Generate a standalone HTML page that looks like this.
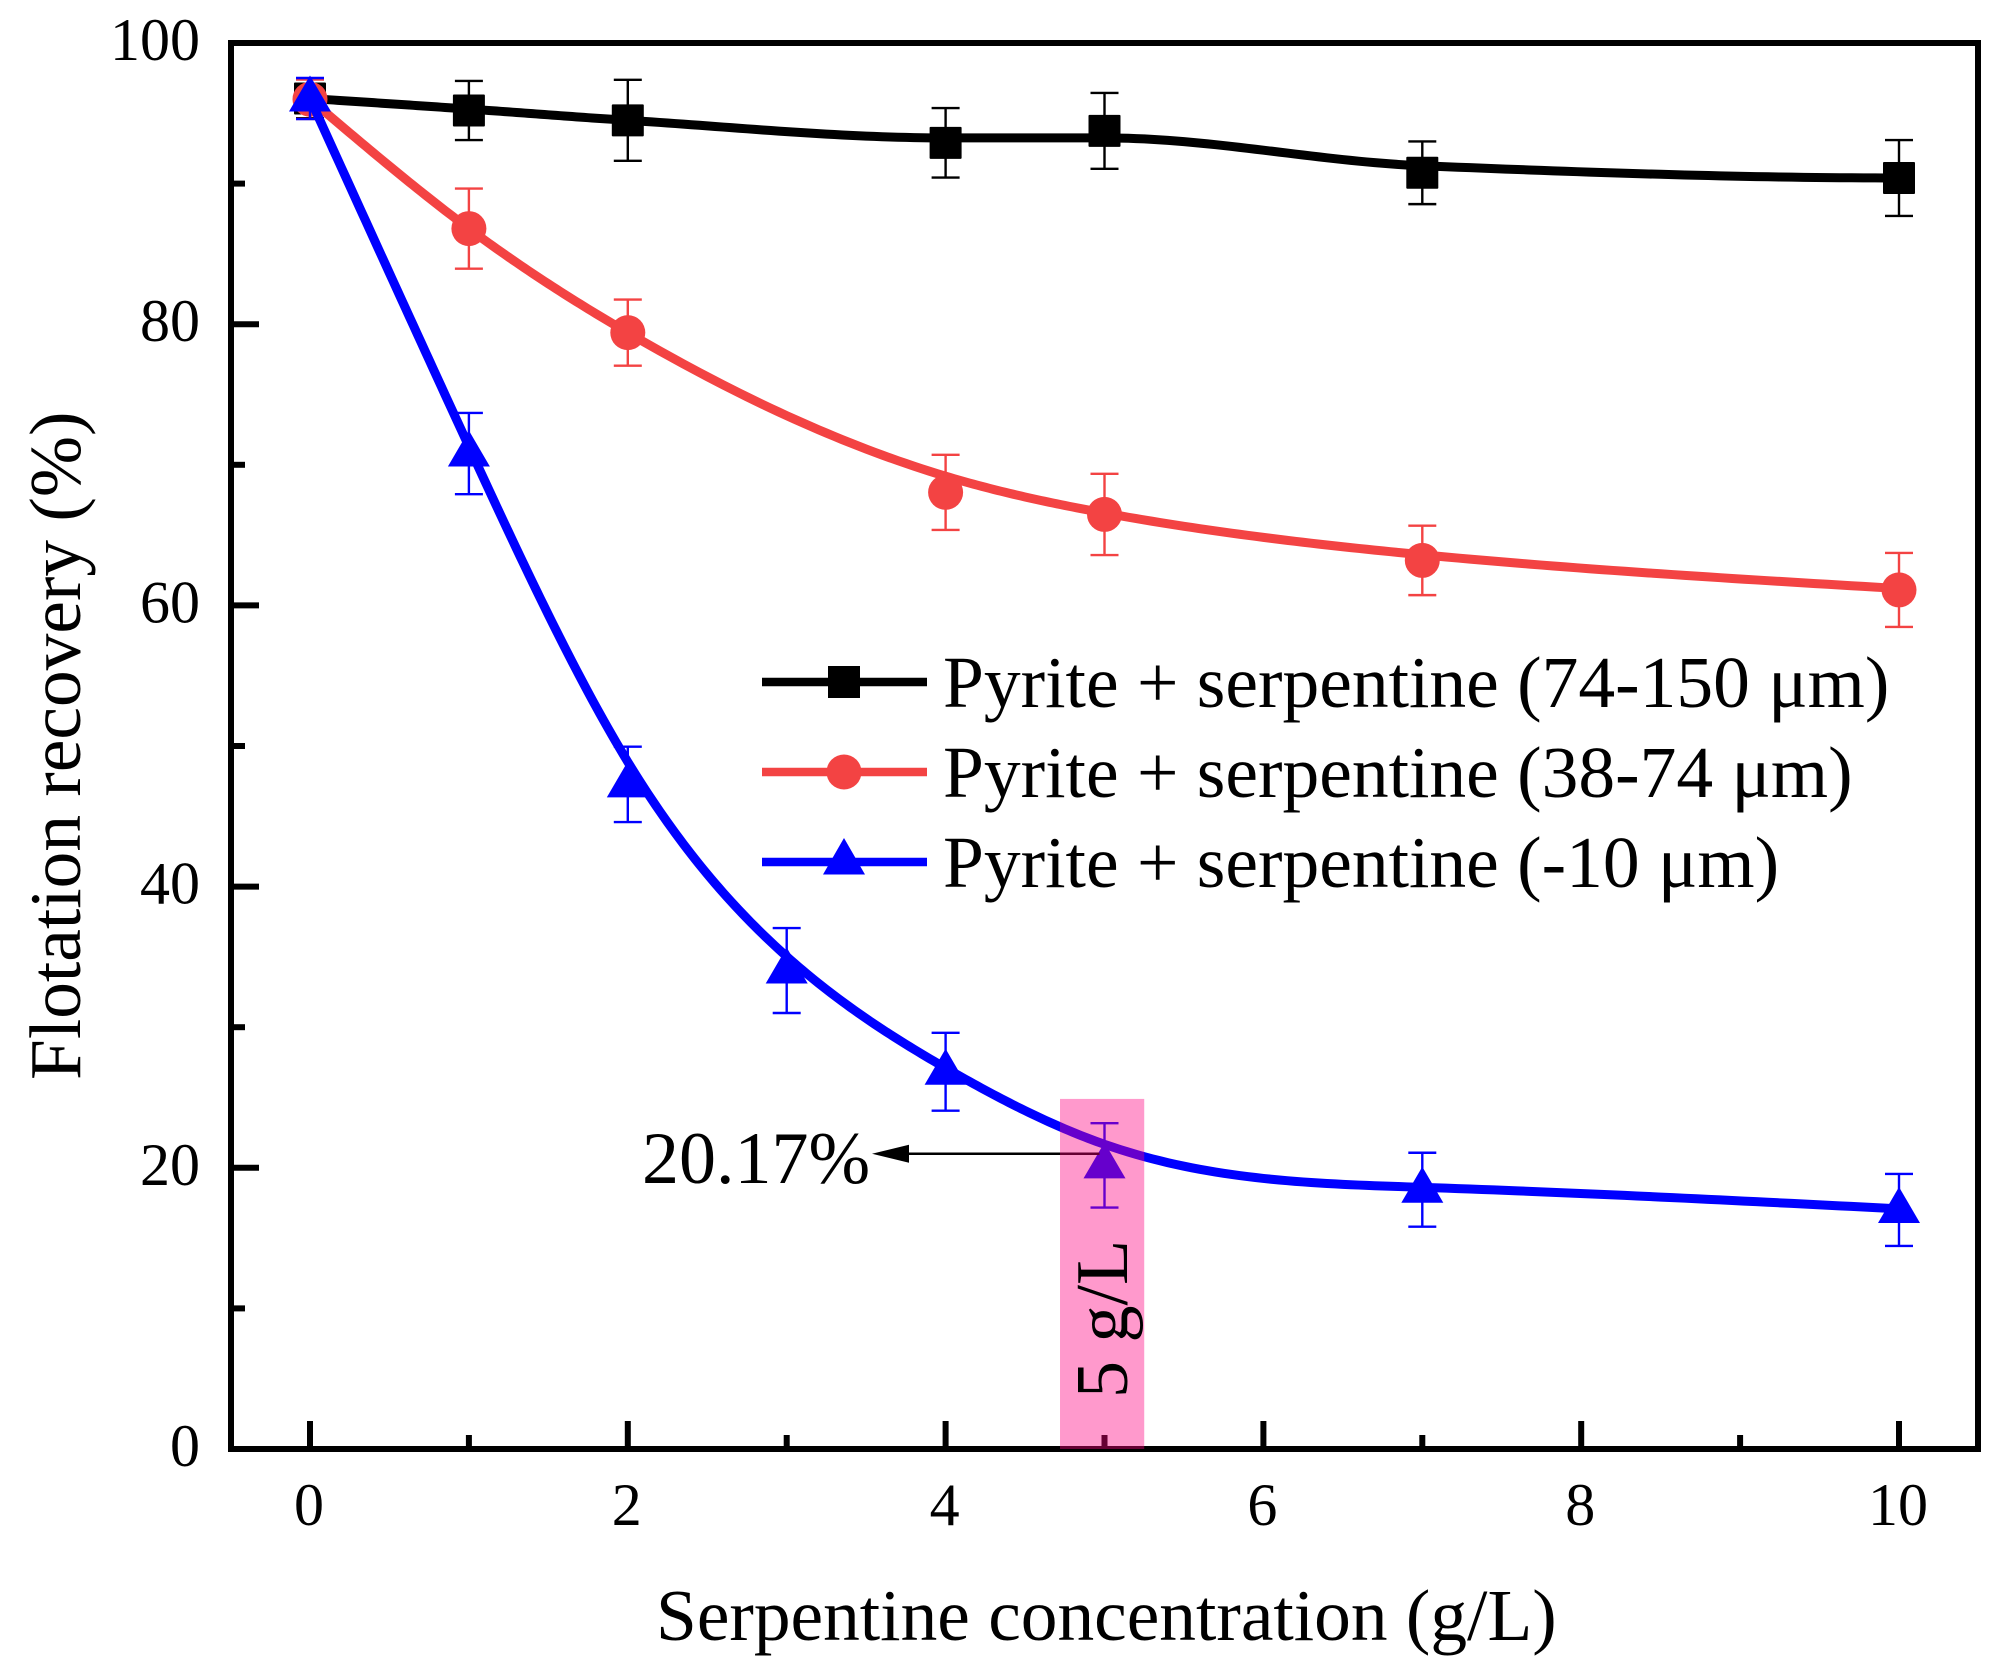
<!DOCTYPE html>
<html lang="en">
<head>
<meta charset="utf-8">
<title>Flotation recovery vs serpentine concentration</title>
<style>
  html, body { margin: 0; padding: 0; background: #ffffff; }
  svg { display: block; }
  text { font-family: "Liberation Serif", "Times New Roman", serif; fill: #000; }
  .tick-label { font-size: 60px; }
  .title { font-size: 73.4px; }
  .legend-text { font-size: 73.5px; }
  .note { font-size: 74px; }
</style>
</head>
<body>
<svg id="chart" xmlns="http://www.w3.org/2000/svg" width="2014" height="1666" viewBox="0 0 2014 1666">
  <rect x="0" y="0" width="2014" height="1666" fill="#ffffff"/>
  <g id="axes"></g>
  <g id="series"></g>
  <g id="annotation"></g>
  <rect x="231" y="43" width="1747" height="1406" fill="none" stroke="#000" stroke-width="6"/>
  <g id="band-layer"></g>
  <text class="note" transform="translate(1127,1398) rotate(-90)">5 g/L</text>
  <text class="title" x="656" y="1640">Serpentine concentration (g/L)</text>
  <text class="title" transform="translate(80,1080) rotate(-90)">Flotation recovery (%)</text>

  <g>
    <g>
      <line x1="762" y1="682" x2="927" y2="682" stroke="#000" stroke-width="8.5"/>
      <rect x="828" y="666" width="32" height="32" fill="#000"/>
      <text class="legend-text" x="943" y="707">Pyrite + serpentine (74-150 μm)</text>
    </g>
    <g>
      <line x1="762" y1="772" x2="927" y2="772" stroke="#f34343" stroke-width="8.5"/>
      <circle cx="844" cy="772" r="17.5" fill="#f34343"/>
      <text class="legend-text" x="943" y="797">Pyrite + serpentine (38-74 μm)</text>
    </g>
    <g>
      <line x1="762" y1="862" x2="927" y2="862" stroke="#0000ff" stroke-width="8.5"/>
      <polygon points="844,838 865,874.5 823,874.5" fill="#0000ff"/>
      <text class="legend-text" x="943" y="887">Pyrite + serpentine (-10 μm)</text>
    </g>
  </g>
</svg>

<script>
// Axis ticks
const xMajorTicks = [0, 2, 4, 6, 8, 10];
const xMinorTicks = [1, 3, 5, 7, 9];
const yMajorTicks = [0, 20, 40, 60, 80, 100];
const yMinorTicks = [10, 30, 50, 70, 90];

// Pyrite + serpentine (74-150 um)
const coarseConcentration = [0, 1, 2, 4, 5, 7, 10];
const coarseRecovery = [96.05, 95.2, 94.5, 92.9, 93.75, 90.77, 90.4];
const coarseError = [1.4, 2.1, 2.88, 2.47, 2.7, 2.23, 2.7];
const coarseCurveShift = [0, 0.1, 0, 0.35, -0.5, 0.5, 0];

// Pyrite + serpentine (38-74 um)
const mediumConcentration = [0, 1, 2, 4, 5, 7, 10];
const mediumRecovery = [96.0, 86.8, 79.4, 68.04, 66.47, 63.2, 61.1];
const mediumError = [1.4, 2.85, 2.35, 2.67, 2.89, 2.47, 2.63];
const mediumCurveShift = [0, 0, 0, 1.15, 0.1, 0.4, 0.1];

// Pyrite + serpentine (-10 um)
const fineConcentration = [0, 1, 2, 3, 4, 5, 7, 10];
const fineRecovery = [96.05, 70.8, 47.27, 34.03, 26.83, 20.17, 18.44, 17.0];
const fineError = [1.46, 2.89, 2.68, 3.02, 2.77, 3.0, 2.63, 2.56];
const fineCurveShift = [0, 0.5, 1.6, 1.0, 0.27, 1.5, 0.17, 0.08];

// Highlighted band and annotation
const bandConcentration = [4.72, 5.25];
const bandRecoveryTop = 24.9;
const annotatedPoint = [5, 21.0];

const SVG_NS = 'http://www.w3.org/2000/svg';
const xAxis = function (v) { return 310 + v * 158.9; };
const yAxis = function (v) { return 1449 - v * 14.06; };

const axesLayer = document.getElementById('axes');
const seriesLayer = document.getElementById('series');
const annotationLayer = document.getElementById('annotation');
const bandLayer = document.getElementById('band-layer');

function make(tag, parent) {
  const node = document.createElementNS(SVG_NS, tag);
  parent.appendChild(node);
  return node;
}

function setAll(node, props) {
  Object.keys(props).forEach(function (k) { node.setAttribute(k, props[k]); });
}

// ---- ticks -----
xMajorTicks.forEach(function (t) {
  const tick = make('line', axesLayer);
  
  
  setAll(tick, { x1: xAxis(t), x2: xAxis(t), y1: yAxis(0), y2: yAxis(0) - 28, stroke: '#000', 'stroke-width': 6 });
  const label = make('text', axesLayer);
  
  
  setAll(label, { x: xAxis(t) - 1, y: 1525, 'text-anchor': 'middle', class: 'tick-label' });
  label.textContent = String(t);
});
xMinorTicks.forEach(function (t) {
  const tick = make('line', axesLayer);
  
  
  setAll(tick, { x1: xAxis(t), x2: xAxis(t), y1: yAxis(0), y2: yAxis(0) - 14, stroke: '#000', 'stroke-width': 6 });
});
yMajorTicks.forEach(function (t) {
  const tick = make('line', axesLayer);
  
  
  setAll(tick, { x1: 231, x2: 259, y1: yAxis(t), y2: yAxis(t), stroke: '#000', 'stroke-width': 6 });
  const label = make('text', axesLayer);
  
  
  setAll(label, { x: 200, y: yAxis(t) + 17, 'text-anchor': 'end', class: 'tick-label' });
  label.textContent = String(t);
});
yMinorTicks.forEach(function (t) {
  const tick = make('line', axesLayer);
  
  
  setAll(tick, { x1: 231, x2: 245, y1: yAxis(t), y2: yAxis(t), stroke: '#000', 'stroke-width': 6 });
});

// ---- natural cubic spline through the curve knots -----
function naturalSplinePath(xs, ys) {
  const n = xs.length;
  const m = new Array(n).fill(0);
  const c = new Array(n).fill(0);
  const d = new Array(n).fill(0);
  for (let i = 1; i < n - 1; i++) {
    const h0 = xs[i] - xs[i - 1];
    const h1 = xs[i + 1] - xs[i];
    const b = 2 * (h0 + h1);
    const r = 6 * ((ys[i + 1] - ys[i]) / h1 - (ys[i] - ys[i - 1]) / h0);
    const w = b - h0 * c[i - 1];
    c[i] = h1 / w;
    d[i] = (r - h0 * d[i - 1]) / w;
  }
  for (let i = n - 2; i > 0; i--) {
    m[i] = d[i] - c[i] * m[i + 1];
  }
  let path = 'M' + xAxis(xs[0]).toFixed(2) + ' ' + yAxis(ys[0]).toFixed(2);
  for (let i = 0; i < n - 1; i++) {
    const h = xs[i + 1] - xs[i];
    for (let s = 1; s <= 40; s++) {
      const t = s / 40;
      const a = 1 - t;
      const v = a * ys[i] + t * ys[i + 1] +
        ((a * a * a - a) * m[i] + (t * t * t - t) * m[i + 1]) * h * h / 6;
      path += 'L' + xAxis(xs[i] + t * h).toFixed(2) + ' ' + yAxis(v).toFixed(2);
    }
  }
  return path;
}

// ---- shape-preserving (PCHIP) curve, stays flat where neighbouring knots level out -----
function monotoneSplinePath(xs, ys) {
  const n = xs.length;
  const h = [];
  const sec = [];
  for (let i = 0; i < n - 1; i++) {
    h.push(xs[i + 1] - xs[i]);
    sec.push((ys[i + 1] - ys[i]) / h[i]);
  }
  const tan = new Array(n).fill(0);
  for (let i = 1; i < n - 1; i++) {
    if (sec[i - 1] * sec[i] > 0) {
      const w1 = 2 * h[i] + h[i - 1];
      const w2 = h[i] + 2 * h[i - 1];
      tan[i] = (w1 + w2) / (w1 / sec[i - 1] + w2 / sec[i]);
    }
  }
  function endSlope(h0, h1, d0, d1) {
    const s = ((2 * h0 + h1) * d0 - h0 * d1) / (h0 + h1);
    if (s * d0 <= 0) { return 0; }
    return s;
  }
  tan[0] = endSlope(h[0], h[1], sec[0], sec[1]);
  tan[n - 1] = endSlope(h[n - 2], h[n - 3], sec[n - 2], sec[n - 3]);
  let path = 'M' + xAxis(xs[0]).toFixed(2) + ' ' + yAxis(ys[0]).toFixed(2);
  for (let i = 0; i < n - 1; i++) {
    for (let s = 1; s <= 40; s++) {
      const t = s / 40;
      const a = 1 - t;
      const v = (1 + 2 * t) * a * a * ys[i] + t * a * a * h[i] * tan[i] +
        t * t * (3 - 2 * t) * ys[i + 1] - t * t * a * h[i] * tan[i + 1];
      path += 'L' + xAxis(xs[i] + t * h[i]).toFixed(2) + ' ' + yAxis(v).toFixed(2);
    }
  }
  return path;
}

function drawSeries(key, xs, ys, errs, shifts, color, shape, curveBuilder) {
  const group = make('g', seriesLayer);
  
  

  xs.forEach(function (x, i) {
    const px = xAxis(x);
    const top = yAxis(ys[i] + errs[i]);
    const bottom = yAxis(ys[i] - errs[i]);
    const stem = make('path', group);
    
    
    setAll(stem, {
      d: 'M' + (px - 14) + ' ' + top + 'H' + (px + 14) + 'M' + px + ' ' + top + 'V' + bottom + 'M' + (px - 14) + ' ' + bottom + 'H' + (px + 14),
      fill: 'none', stroke: color, 'stroke-width': 2.4
    });
  });

  const curve = make('path', group);
  
  
  const knots = ys.map(function (v, i) { return v + shifts[i]; });
  setAll(curve, { d: curveBuilder(xs, knots), fill: 'none', stroke: color, 'stroke-width': 9, 'stroke-linejoin': 'round' });

  xs.forEach(function (x, i) {
    const px = xAxis(x);
    const py = yAxis(ys[i]);
    let mark;
    if (shape === 'square') {
      mark = make('rect', group);
      setAll(mark, { x: px - 16, y: py - 16, width: 32, height: 32, rx: 1, fill: color });
    } else if (shape === 'circle') {
      mark = make('circle', group);
      setAll(mark, { cx: px, cy: py, r: 17.5, fill: color });
    } else {
      mark = make('polygon', group);
      setAll(mark, { points: px + ',' + (py - 23) + ' ' + (px + 21) + ',' + (py + 13) + ' ' + (px - 21) + ',' + (py + 13), fill: color });
    }
    
    
  });
}

drawSeries('74-150', coarseConcentration, coarseRecovery, coarseError, coarseCurveShift, '#000000', 'square', monotoneSplinePath);
drawSeries('38-74', mediumConcentration, mediumRecovery, mediumError, mediumCurveShift, '#f34343', 'circle', naturalSplinePath);
drawSeries('minus-10', fineConcentration, fineRecovery, fineError, fineCurveShift, '#0000ff', 'triangle', naturalSplinePath);

// ---- annotation arrow and label -----
const arrowY = yAxis(annotatedPoint[1]);
const arrowLine = make('line', annotationLayer);


setAll(arrowLine, { x1: xAxis(annotatedPoint[0]) - 5, x2: 905, y1: arrowY, y2: arrowY, stroke: '#000', 'stroke-width': 2.6 });

const arrowHead = make('polygon', annotationLayer);


setAll(arrowHead, { points: '872,' + arrowY + ' 909,' + (arrowY - 9) + ' 909,' + (arrowY + 9), fill: '#000' });

const noteLabel = make('text', annotationLayer);


setAll(noteLabel, { x: 642, y: 1183, class: 'note' });
noteLabel.textContent = '20.17%';

// ---- highlighted band -----
const band = make('rect', bandLayer);


setAll(band, {
  x: xAxis(bandConcentration[0]),
  y: yAxis(bandRecoveryTop),
  width: xAxis(bandConcentration[1]) - xAxis(bandConcentration[0]),
  height: yAxis(0) - yAxis(bandRecoveryTop),
  fill: '#ff0080',
  'fill-opacity': 0.4
});
</script>
</body>
</html>
